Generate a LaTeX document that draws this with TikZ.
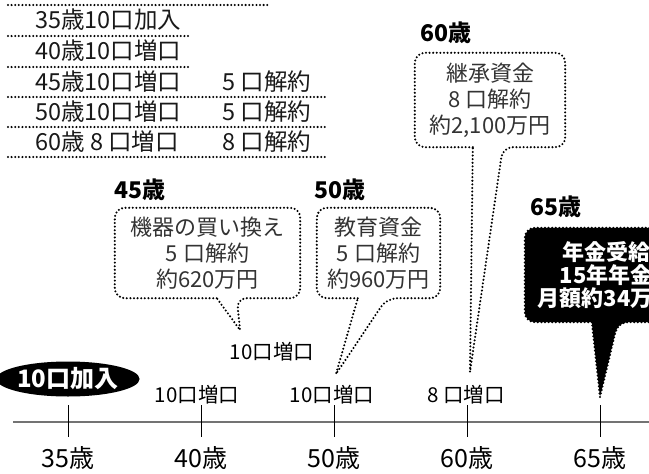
\documentclass[tikz,border=0pt]{standalone}
\usepackage{fontspec}
\setmainfont{Noto Sans CJK JP}
\usetikzlibrary{calc,shapes.geometric}
\def\callout[#1](#2)(#3:#4)(#5){\draw[#1] ([xshift=#3]#2.south west) [rounded corners=10pt] -- (#2.south west) -- (#2.north west) -- (#2.north east) -- (#2.south east) -- ([xshift=#4]#2.south west) [sharp corners] -- (#5) -- cycle;}
\tikzset{
	dots/.style={line width=2.3pt, line cap=round, dash pattern=on 0pt off 3.6pt},
	rowtext/.style={anchor=west, inner sep=0pt, text=black!90, font=\fontsize{23.5}{23.5}\selectfont},
	age/.style={inner sep=0pt, font=\fontsize{25}{25}\selectfont},
	zougen/.style={inner sep=0pt, font=\fontsize{20.5}{20.5}\selectfont},
	year/.style={inner sep=0pt, font=\bfseries\fontsize{23}{23}\selectfont},
	bubtext/.style={align=center, inner sep=0pt, text=black!80, font=\fontsize{22}{26}\selectfont},
}

\begin{document}
\begin{tikzpicture}[x=1pt, y=-1pt]
		%%%%% START %%%%%
		\useasboundingbox (0, 0) rectangle (649, 474);
		\clip (0, 0) rectangle (649, 474);
		
		% table of units
		\foreach \y/\w in {5/268, 36/190, 67/190, 97/325, 127/325, 157/325}
			\draw[dots] (8, \y) -- (\w, \y);
		\node[rowtext] (r35) at (35, 20) {35歳10口加入};
		\node[rowtext] (r40) at (35, 51) {40歳10口増口};
		\node[rowtext] (r45) at (35, 82) {45歳10口増口};
		\node[rowtext] (r50) at (35, 112) {50歳10口増口};
		\node[rowtext] (r60) at (35, 142) {60歳 8 口増口};
		\node[rowtext] (k45) at (222, 82) {5 口解約};
		\node[rowtext] (k50) at (222, 112) {5 口解約};
		\node[rowtext] (k60) at (222, 142) {8 口解約};
		
		% time line
		\draw[line width=1.3pt, color=black!55] (13, 422) -- (649, 422);
		\foreach \x/\a in {68/35, 201/40, 334/50, 467/60, 600/65} {
			\draw[line width=0.8pt] (\x, 405) -- (\x, 437);
			\node[age] (a\a) at (\x, 458) {\a{}歳};
		}
		
		\node[ellipse, fill=black, text=white, inner sep=0pt, minimum width=120, minimum height=35, font=\bfseries\fontsize{24}{24}\selectfont] (e35) at (68, 379) {10口加入};
		\node[zougen] (z40) at (197, 395) {10口増口};
		\node[zougen] (z50) at (332, 395) {10口増口};
		\node[zougen] (z60) at (466, 395) {8 口増口};
		\node[zougen] (z45) at (272, 352) {10口増口};
		
		% callouts
		\node[year] (y45) at (140, 190) {45歳};
		\node[year] (y50) at (340, 190) {50歳};
		\node[year] (y60) at (446, 33) {60歳};
		\node[year] (y65) at (556, 207) {65歳};
		
		\node[bubtext, minimum width=185, minimum height=90] (b45) at (207.5, 253) {機器の買い換え\\5 口解約\\約620万円};
		\node[bubtext, minimum width=123, minimum height=90] (b50) at (378.5, 253) {教育資金\\5 口解約\\約960万円};
		\node[bubtext, minimum width=150, minimum height=94] (b60) at (490, 100) {継承資金\\8 口解約\\約2,100万円};
		
		\coordinate (t45) at (240, 330);
		\coordinate (t50) at (336, 374);
		\coordinate (t60) at (470, 372);
		\coordinate (t65) at (600, 397);
		
		\callout[dots](b45)(102:122)(t45);
		\callout[dots](b50)(41:70)(t50);
		\callout[dots](b60)(58:88)(t60);
		
		\node[minimum width=162, minimum height=94] (b65) at (606, 275) {};
		\callout[dots, fill=black](b65)(67:93)(t65);
		\node[align=center, inner sep=0pt, text=white, font=\bfseries\fontsize{22}{23}\selectfont] (m65) at (b65) {年金受給\\15年年金\\月額約34万円};
		
		%%%%% END %%%%%
	\end{tikzpicture}
\end{document}
